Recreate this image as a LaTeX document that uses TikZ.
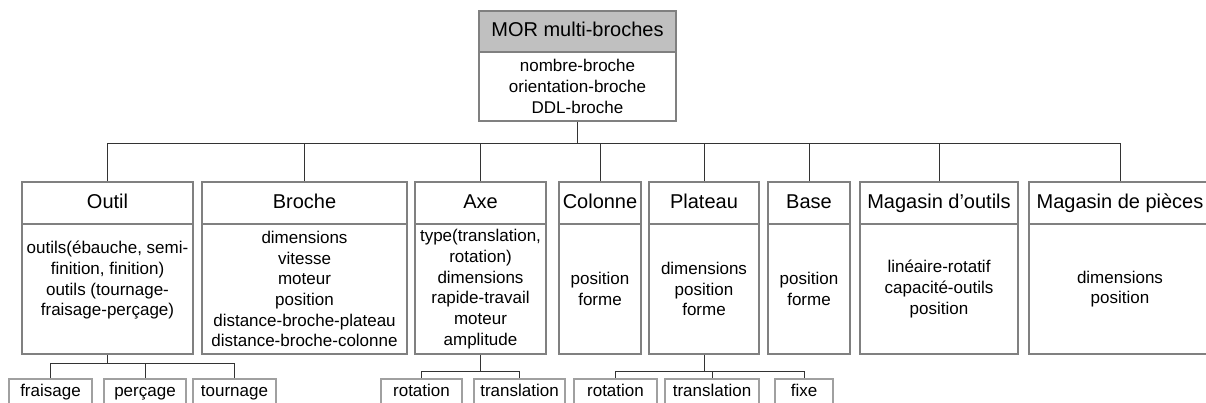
\documentclass[tikz,border=0pt]{standalone}
\usepackage{fontspec}
\setmainfont{Liberation Sans}

\definecolor{boxgray}{HTML}{808080}
\definecolor{headgray}{HTML}{C0C0C0}
\definecolor{leafgray}{HTML}{A0A0A0}

\begin{document}
\begin{tikzpicture}[x=1pt,y=-1pt,
    classhead/.style={draw=boxgray,line width=2pt,inner sep=0pt,minimum height=42pt,text height=14.5pt,text depth=4pt,font=\fontsize{20}{24}\selectfont},
    classbody/.style={draw=boxgray,line width=2pt,inner sep=0pt,minimum height=130pt,align=center,font=\fontsize{17}{20.7}\selectfont},
    leafbox/.style={draw=leafgray,line width=1.3pt,inner sep=0pt,minimum height=26pt,text height=12.5pt,text depth=3.5pt,font=\fontsize{17}{20}\selectfont},
    link/.style={draw=black!80,line width=0.9pt}]
  \clip (0,0) rectangle (1206,403);
  % racine
  \node[classhead,fill=headgray,minimum width=197pt,minimum height=41pt] (morH) at (577.5,31.5) {MOR multi-broches};
  \node[classbody,minimum width=197pt,minimum height=69pt] (morB) at (577.5,86.5) {nombre-broche\\orientation-broche\\DDL-broche};
  % composants
  \node[classhead,minimum width=171pt] (outilH) at (107.5,203) {Outil};
  \node[classbody,minimum width=171pt] (outilB) at (107.5,289) {outils(ébauche, semi-\\finition, finition)\\outils (tournage-\\fraisage-perçage)\\ \mbox{}};
  \node[classhead,minimum width=205pt] (brocheH) at (304.5,203) {Broche};
  \node[classbody,minimum width=205pt] (brocheB) at (304.5,289) {dimensions\\vitesse\\moteur\\position\\distance-broche-plateau\\distance-broche-colonne};
  \node[classhead,minimum width=131pt] (axeH) at (480.5,203) {Axe};
  \node[classbody,minimum width=131pt] (axeB) at (480.5,289) {type(translation,\\rotation)\\dimensions\\rapide-travail\\moteur\\amplitude};
  \node[classhead,minimum width=82pt] (colonneH) at (600,203) {Colonne};
  \node[classbody,minimum width=82pt] (colonneB) at (600,289) {position\\forme};
  \node[classhead,minimum width=110pt] (plateauH) at (704,203) {Plateau};
  \node[classbody,minimum width=110pt] (plateauB) at (704,289) {dimensions\\position\\forme};
  \node[classhead,minimum width=82pt] (baseH) at (809,203) {Base};
  \node[classbody,minimum width=82pt] (baseB) at (809,289) {position\\forme};
  \node[classhead,minimum width=158pt] (magoutH) at (939,203) {Magasin d’outils};
  \node[classbody,minimum width=158pt] (magoutB) at (939,289) {linéaire-rotatif\\capacité-outils\\position};
  \node[classhead,minimum width=182pt] (magpieceH) at (1120,203) {Magasin de pièces};
  \node[classbody,minimum width=182pt] (magpieceB) at (1120,289) {dimensions\\position};
  % feuilles
  \node[leafbox,minimum width=83pt] (fraisage) at (50.5,392) {fraisage};
  \node[leafbox,minimum width=82pt] (percage) at (145,392) {perçage};
  \node[leafbox,minimum width=83pt] (tournage) at (234.5,392) {tournage};
  \node[leafbox,minimum width=81pt] (axeRot) at (421.5,392) {rotation};
  \node[leafbox,minimum width=91pt] (axeTr) at (519.5,392) {translation};
  \node[leafbox,minimum width=83pt] (platRot) at (615.5,392) {rotation};
  \node[leafbox,minimum width=94pt] (platTr) at (712,392) {translation};
  \node[leafbox,minimum width=58pt] (platFix) at (804,392) {fixe};
  % liens
  \coordinate (bus) at (morB.south |- 0,143);
  \draw[link] (morB.south) -- (bus);
  \foreach \c in {outilH,brocheH,axeH,colonneH,plateauH,baseH,magoutH,magpieceH}
    \draw[link] (bus) -| (\c.north);
  \coordinate (outilFork) at (outilB.south |- 0,363);
  \draw[link] (outilB.south) -- (outilFork);
  \foreach \c in {fraisage,percage,tournage}
    \draw[link] (outilFork) -| (\c.north);
  \coordinate (axeFork) at (axeB.south |- 0,371);
  \draw[link] (axeB.south) -- (axeFork);
  \foreach \c in {axeRot,axeTr}
    \draw[link] (axeFork) -| (\c.north);
  \coordinate (platFork) at (plateauB.south |- 0,371);
  \draw[link] (plateauB.south) -- (platFork);
  \foreach \c in {platRot,platTr,platFix}
    \draw[link] (platFork) -| (\c.north);
\end{tikzpicture}
\end{document}
